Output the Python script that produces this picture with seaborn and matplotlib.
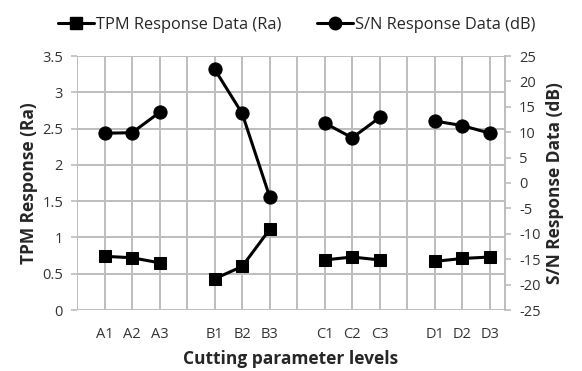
import matplotlib
matplotlib.use("Agg")
import matplotlib.pyplot as plt
from matplotlib.lines import Line2D
import seaborn as sns
import pandas as pd
import numpy as np

levels = ["A1", "A2", "A3", "B1", "B2", "B3", "C1", "C2", "C3", "D1", "D2", "D3"]
groups = ["A", "A", "A", "B", "B", "B", "C", "C", "C", "D", "D", "D"]
positions = [1, 2, 3, 5, 6, 7, 9, 10, 11, 13, 14, 15]
tpm_ra = [0.74, 0.72, 0.65, 0.43, 0.60, 1.11, 0.69, 0.73, 0.69, 0.67, 0.71, 0.73]
sn_db = [9.8, 9.9, 13.9, 22.4, 13.7, -2.7, 11.8, 8.9, 12.9, 12.2, 11.3, 9.8]

df = pd.DataFrame({"pos": positions, "level": levels, "group": groups,
                   "tpm": tpm_ra, "sn": sn_db})

sns.set_theme(style="white")
plt.rcParams["font.family"] = ["Open Sans", "DejaVu Sans"]
plt.rcParams["axes.unicode_minus"] = False

fig = plt.figure(figsize=(5.82, 3.71), dpi=100)
ax = fig.add_axes([77/582, 1 - 310/371, (505-77)/582, (310-56)/371])
ax2 = ax.twinx()

grid_c = "#bdbdbd"
ax.set_xlim(0, 15.55)
ax.set_ylim(0, 3.5)
ax2.set_ylim(-25, 25)
ax.set_xticks(range(0, 16))
ax.set_xticklabels([""] + [levels[positions.index(i)] if i in positions else "" for i in range(1, 16)])
ax.set_yticks(np.arange(0, 3.51, 0.5))
ax.set_yticklabels(["0", "0.5", "1", "1.5", "2", "2.5", "3", "3.5"])
ax2.set_yticks(range(-25, 26, 5))
ax.grid(True, color=grid_c, linewidth=1.4)
ax.set_axisbelow(True)

sns.lineplot(data=df, x="pos", y="tpm", units="group", estimator=None, ax=ax,
             color="black", marker="s", markersize=9, linewidth=2.2,
             markeredgecolor="black", legend=False)
sns.lineplot(data=df, x="pos", y="sn", units="group", estimator=None, ax=ax2,
             color="black", marker="o", markersize=9.5, linewidth=2.2,
             markeredgecolor="black", legend=False)

for a in (ax, ax2):
    for s in a.spines.values():
        s.set_visible(False)
    a.tick_params(axis="both", labelsize=10.5, colors="#333333", length=4,
                  width=1.2, color=grid_c, pad=6)
ax2.spines["right"].set_visible(True)
ax2.spines["right"].set_color(grid_c)
ax2.spines["right"].set_linewidth(1.4)
ax.tick_params(axis="x", pad=8)
ax.set_xlabel("Cutting parameter levels", fontsize=12.5, fontweight="bold")
ax.xaxis.set_label_coords(0.5, (310 - 350) / 254)
ax.set_ylabel("TPM Response (Ra)", fontsize=12.5, fontweight="bold", labelpad=3)
ax2.set_ylabel("S/N Response Data (dB)", fontsize=12.5, fontweight="bold", labelpad=4)

handles = [Line2D([], [], color="black", marker="s", markersize=9, linewidth=2.2),
           Line2D([], [], color="black", marker="o", markersize=9, linewidth=2.2)]
fig.legend(handles, ["TPM Response Data (Ra)", "S/N Response Data (dB)"],
           loc="center", bbox_to_anchor=(0.51, 1 - 25/371), ncol=2, frameon=False,
           fontsize=11.8, handlelength=2.2, handletextpad=0.1, columnspacing=2.2)

fig.savefig("out.png", dpi=100, facecolor="white")
